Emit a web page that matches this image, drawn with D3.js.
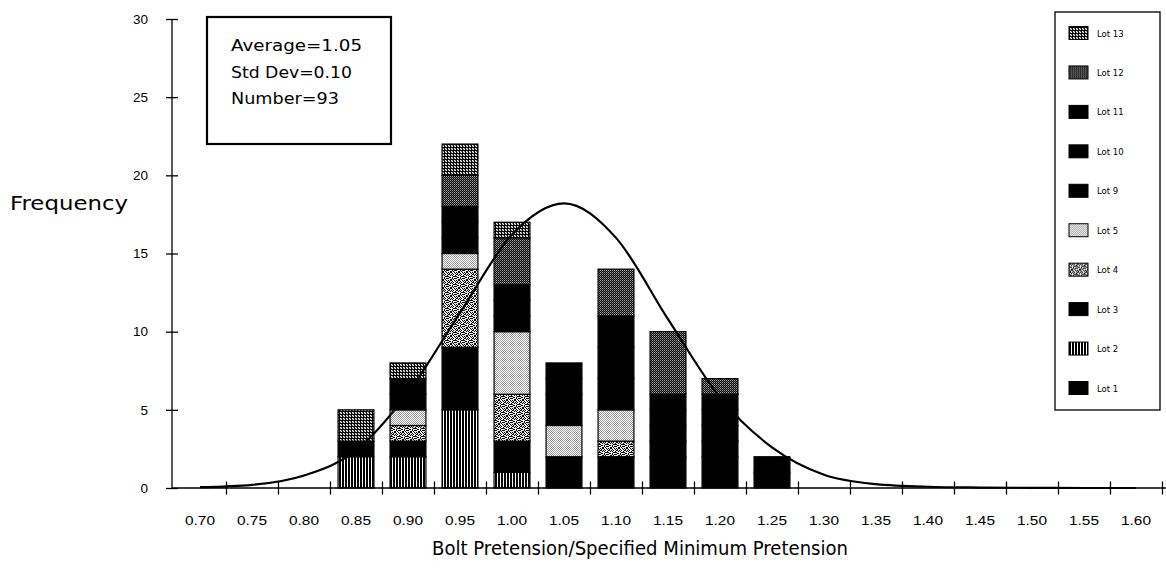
<!DOCTYPE html>
<html lang="en">
<head>
    <meta charset="UTF-8">
    <title>Bolt Pretension Histogram</title>
    <script src="https://d3js.org/d3.v7.min.js"></script>
    <style>
        body {
            margin: 0;
            background: #fff;
            font-family: "DejaVu Sans", Arial, sans-serif;
        }
        svg {
            display: block;
        }
        .axis path {
            display: none;
        }
        .axis line {
            stroke: #000;
            stroke-width: 1.3;
        }
        .axis text {
            fill: #000;
        }
    </style>
</head>
<body>
<svg width="1166" height="577"></svg>
<script>
    // bins of Bolt Pretension / Specified Minimum Pretension
    const categories = ["0.70", "0.75", "0.80", "0.85", "0.90", "0.95", "1.00", "1.05", "1.10", "1.15",
        "1.20", "1.25", "1.30", "1.35", "1.40", "1.45", "1.50", "1.55", "1.60"];

    // counts per lot, one value per bin (stacked bottom to top: Lot 1 ... Lot 13)
    const lot1  = [0, 0, 0, 0, 0, 0, 0, 2, 2, 2, 2, 1, 0, 0, 0, 0, 0, 0, 0];
    const lot2  = [0, 0, 0, 2, 2, 5, 1, 0, 0, 0, 0, 0, 0, 0, 0, 0, 0, 0, 0];
    const lot3  = [0, 0, 0, 1, 1, 4, 2, 0, 0, 1, 1, 0, 0, 0, 0, 0, 0, 0, 0];
    const lot4  = [0, 0, 0, 0, 1, 5, 3, 0, 1, 0, 0, 0, 0, 0, 0, 0, 0, 0, 0];
    const lot5  = [0, 0, 0, 0, 1, 1, 4, 2, 2, 0, 0, 0, 0, 0, 0, 0, 0, 0, 0];
    const lot9  = [0, 0, 0, 0, 1, 1, 1, 2, 2, 1, 1, 1, 0, 0, 0, 0, 0, 0, 0];
    const lot10 = [0, 0, 0, 0, 1, 1, 1, 1, 2, 1, 1, 0, 0, 0, 0, 0, 0, 0, 0];
    const lot11 = [0, 0, 0, 0, 0, 1, 1, 1, 2, 1, 1, 0, 0, 0, 0, 0, 0, 0, 0];
    const lot12 = [0, 0, 0, 0, 0, 2, 3, 0, 3, 4, 1, 0, 0, 0, 0, 0, 0, 0, 0];
    const lot13 = [0, 0, 0, 2, 1, 2, 1, 0, 0, 0, 0, 0, 0, 0, 0, 0, 0, 0, 0];

    const lotNames = ["Lot 1", "Lot 2", "Lot 3", "Lot 4", "Lot 5", "Lot 9", "Lot 10", "Lot 11", "Lot 12", "Lot 13"];
    const lotSeries = [lot1, lot2, lot3, lot4, lot5, lot9, lot10, lot11, lot12, lot13];

    // fitted normal curve, read at bin centres
    const curveValues = [0.05, 0.2, 0.8, 2.4, 6.1, 11.2, 16.2, 18.2, 16.0, 10.8,
        5.8, 2.6, 0.85, 0.25, 0.08, 0.03, 0.01, 0, 0];

    const yTicks = [0, 5, 10, 15, 20, 25, 30];
    const statsLines = ["Average=1.05", "Std Dev=0.10", "Number=93"];

    const svg = d3.select("svg");
    const defs = svg.append("defs");

    // fill patterns, one per lot
    function pixelPattern(id, rows, colors) {
        const h = rows.length, w = rows[0].length;
        const p = defs.append("pattern")
            .attr("id", id)
            .attr("patternUnits", "userSpaceOnUse")
            .attr("width", w).attr("height", h);
        rows.forEach((row, j) => {
            row.split("").forEach((c, i) => {
                p.append("rect")
                    .attr("x", i).attr("y", j)
                    .attr("width", 1).attr("height", 1)
                    .attr("shape-rendering", "crispEdges")
                    .attr("fill", colors[c]);
            });
        });
    }
    pixelPattern("stripes", ["bbw", "bbw"], { "b": "#000", "w": "#fff" });
    pixelPattern("mottle", [
        "10110010",
        "01001001",
        "11010100",
        "00101001",
        "10000111",
        "01101000",
        "10001011",
        "00110100"
    ], { "1": "#000", "0": "#e8e8e8" });
    pixelPattern("light", ["gw", "wg"], { "g": "#9a9a9a", "w": "#fff" });
    pixelPattern("speck", ["gk", "kh"], { "g": "#a8a8a8", "h": "#606060", "k": "#000" });
    pixelPattern("grid", ["kkk", "kwg", "kgw"], { "k": "#000", "w": "#fff", "g": "#777" });

    const lotFill = {
        "Lot 1": "#000", "Lot 2": "url(#stripes)", "Lot 3": "#000", "Lot 4": "url(#mottle)",
        "Lot 5": "url(#light)", "Lot 9": "#000", "Lot 10": "#000", "Lot 11": "#000",
        "Lot 12": "url(#speck)", "Lot 13": "url(#grid)"
    };

    const table = categories.map((c, i) => {
        const row = { cat: c };
        lotNames.forEach((n, k) => row[n] = lotSeries[k][i]);
        return row;
    });

    const x = d3.scaleBand()
        .domain(categories)
        .range([174, 1162])
        .paddingInner(0.31)
        .paddingOuter(0.155);

    // bin edges for the tick marks
    const xEdge = d3.scaleLinear().domain([0.675, 1.625]).range([174, 1162]);
    const edgeTicks = d3.range(19).map(i => 0.725 + i * 0.05);

    const y = d3.scaleLinear().domain([0, 30]).range([488, 19]);
    const axisX = 172;

    const stacked = d3.stack().keys(lotNames)(table);

    // bars
    svg.append("g")
        .selectAll("g")
        .data(stacked)
        .enter().append("g")
        .attr("fill", d => lotFill[d.key])
        .selectAll("rect")
        .data(d => d.filter(s => s[1] > s[0]))
        .enter().append("rect")
        .attr("x", d => x(d.data.cat))
        .attr("y", d => y(d[1]))
        .attr("width", x.bandwidth())
        .attr("height", d => y(d[0]) - y(d[1]))
        .attr("stroke", "#000")
        .attr("stroke-width", 1.2);

    // normal curve
    const line = d3.line()
        .x((d, i) => x(categories[i]) + x.bandwidth() / 2)
        .y(d => y(d))
        .curve(d3.curveMonotoneX);

    svg.append("path")
        .datum(curveValues)
        .attr("d", line)
        .attr("fill", "none")
        .attr("stroke", "#000")
        .attr("stroke-width", 2.2);

    // y axis
    const gy = svg.append("g")
        .attr("class", "axis")
        .attr("transform", `translate(${axisX},0)`)
        .call(d3.axisLeft(y).tickValues(yTicks).tickSize(6).tickPadding(18));
    gy.selectAll(".tick line").attr("x1", -6).attr("x2", 6);
    gy.selectAll("text").style("font-size", "13.5px");
    gy.append("line")
        .attr("x1", 0).attr("x2", 0)
        .attr("y1", y(30)).attr("y2", y(0))
        .attr("stroke", "#000").attr("stroke-width", 1.3);

    // x axis: marks at bin edges, labels at bin centres
    const gxe = svg.append("g")
        .attr("class", "axis")
        .attr("transform", `translate(0,${y(0)})`)
        .call(d3.axisBottom(xEdge).tickValues(edgeTicks).tickSize(6).tickFormat(""));
    gxe.selectAll(".tick line").attr("y1", -6.5).attr("y2", 6.5);
    gxe.append("line")
        .attr("x1", axisX).attr("x2", 1166)
        .attr("y1", 0).attr("y2", 0)
        .attr("stroke", "#000").attr("stroke-width", 1.6);

    const gxl = svg.append("g")
        .attr("class", "axis")
        .attr("transform", `translate(0,${y(0)})`)
        .call(d3.axisBottom(x).tickSize(0).tickPadding(28));
    gxl.selectAll("text")
        .style("font-size", "12.5px")
        .attr("textLength", 30)
        .attr("lengthAdjust", "spacingAndGlyphs");

    // axis titles
    svg.append("text")
        .attr("x", 10).attr("y", 210)
        .attr("font-size", 19)
        .attr("textLength", 118)
        .attr("lengthAdjust", "spacingAndGlyphs")
        .text("Frequency");

    svg.append("text")
        .attr("x", 432).attr("y", 555)
        .attr("font-size", 19)
        .attr("textLength", 416)
        .attr("lengthAdjust", "spacingAndGlyphs")
        .text("Bolt Pretension/Specified Minimum Pretension");

    // stats box
    svg.append("rect")
        .attr("x", 207).attr("y", 17)
        .attr("width", 184).attr("height", 127)
        .attr("fill", "#fff")
        .attr("stroke", "#000")
        .attr("stroke-width", 2.2);

    const statWidths = [131, 121, 108];
    svg.selectAll(".stat")
        .data(statsLines)
        .enter().append("text")
        .attr("class", "stat")
        .attr("x", 231)
        .attr("y", (d, i) => 51 + i * 26.5)
        .attr("font-size", 16)
        .attr("textLength", (d, i) => statWidths[i])
        .attr("lengthAdjust", "spacingAndGlyphs")
        .text(d => d);

    // legend
    const legend = svg.append("g");
    legend.append("rect")
        .attr("x", 1055).attr("y", 12)
        .attr("width", 105).attr("height", 398)
        .attr("fill", "#fff")
        .attr("stroke", "#000")
        .attr("stroke-width", 1.3);

    const legendOrder = lotNames.slice().reverse();
    const ly = d3.scalePoint().domain(legendOrder).range([33, 388]);

    const items = legend.selectAll(".item")
        .data(legendOrder)
        .enter().append("g")
        .attr("class", "item")
        .attr("transform", d => `translate(1069,${ly(d)})`);

    items.append("rect")
        .attr("x", 0).attr("y", -6.5)
        .attr("width", 19).attr("height", 13)
        .attr("fill", d => lotFill[d])
        .attr("stroke", "#000")
        .attr("stroke-width", 1);

    items.append("text")
        .attr("x", 28).attr("y", 3.5)
        .attr("font-size", 8.5)
        .text(d => d);
</script>
</body>
</html>
